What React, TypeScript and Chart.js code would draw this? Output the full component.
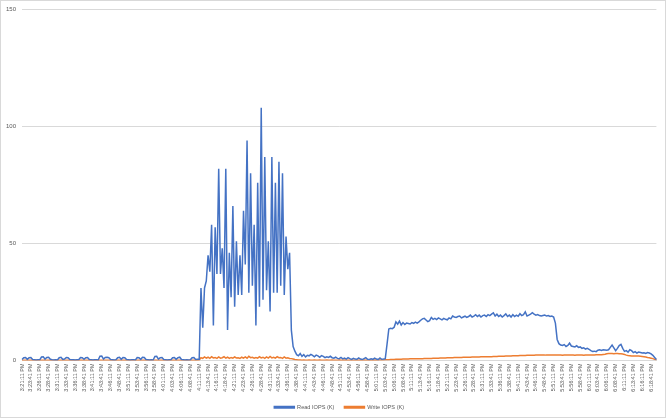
import React, { useEffect, useRef } from 'react';
import { Chart, registerables } from 'chart.js';

Chart.register(...registerables);

// Tick labels shown every 5th sample (samples every 30 s)
const tickLabels = [
  '3:21:11 PM', '3:23:41 PM', '3:26:11 PM', '3:28:41 PM', '3:31:11 PM', '3:33:41 PM', '3:36:11 PM', '3:38:41 PM',
  '3:41:11 PM', '3:43:41 PM', '3:46:11 PM', '3:48:41 PM', '3:51:11 PM', '3:53:41 PM', '3:56:11 PM', '3:58:41 PM',
  '4:01:11 PM', '4:03:41 PM', '4:06:11 PM', '4:08:41 PM', '4:11:11 PM', '4:13:41 PM', '4:16:11 PM', '4:18:41 PM',
  '4:21:11 PM', '4:23:41 PM', '4:26:11 PM', '4:28:41 PM', '4:31:11 PM', '4:33:41 PM', '4:36:11 PM', '4:38:41 PM',
  '4:41:11 PM', '4:43:41 PM', '4:46:11 PM', '4:48:41 PM', '4:51:11 PM', '4:53:41 PM', '4:56:11 PM', '4:58:41 PM',
  '5:01:11 PM', '5:03:41 PM', '5:06:11 PM', '5:08:41 PM', '5:11:11 PM', '5:13:41 PM', '5:16:11 PM', '5:18:41 PM',
  '5:21:11 PM', '5:23:41 PM', '5:26:11 PM', '5:28:41 PM', '5:31:11 PM', '5:33:41 PM', '5:36:11 PM', '5:38:41 PM',
  '5:41:11 PM', '5:43:41 PM', '5:46:11 PM', '5:48:41 PM', '5:51:11 PM', '5:53:41 PM', '5:56:11 PM', '5:58:41 PM',
  '6:01:11 PM', '6:03:41 PM', '6:06:11 PM', '6:08:41 PM', '6:11:11 PM', '6:13:41 PM', '6:16:11 PM', '6:18:41 PM',
];

const seriesNames = ['Read IOPS (K)', 'Write IOPS (K)'];
const seriesColors = ['#4472C4', '#ED7D31'];
const yTicks = [0, 50, 100, 150];

const readIops = [
  // idle period
  0.4, 1.2, 1.3, 0.5, 1.2, 1.3, 0.4, 0.3, 0.2, 0.3, 0.3,
  1.5, 1.6, 0.6, 1.3, 1.4, 0.5, 0.3, 0.2, 0.3, 0.2,
  1.2, 1.4, 0.5, 0.6, 1.3, 1.2, 0.4, 0.3, 0.3, 0.2, 0.3, 0.3,
  1.3, 1.2, 0.5, 1.2, 1.3, 0.4, 0.3, 0.2, 0.3, 0.3, 0.2,
  1.8, 1.9, 0.6, 1.3, 1.4, 1.2, 0.4, 0.3, 0.2, 0.3,
  1.2, 1.4, 0.5, 1.3, 1.2, 0.4, 0.3, 0.2, 0.3, 0.3, 0.2,
  1.3, 1.2, 0.5, 1.4, 1.3, 0.4, 0.3, 0.2, 0.3, 0.2,
  1.7, 1.8, 0.6, 1.2, 1.3, 0.4, 0.3, 0.2, 0.3, 0.3,
  1.2, 1.3, 0.5, 1.2, 1.4, 0.4, 0.3, 0.2, 0.3, 0.2, 0.3,
  1.2, 1.3, 0.4, 0.5,
  // burst
  0.5, 31, 14, 31, 34, 45, 38, 58, 15, 57, 37, 82, 37, 48, 31, 82, 13, 46, 27, 66,
  23, 51, 28, 45, 28, 64, 41, 94, 29, 80, 32, 58, 15, 76, 23, 108, 26, 87, 30, 51,
  21, 87, 29, 76, 29, 85, 32, 80, 28, 53, 39, 46, 13, 6, 4, 2.5, 2,
  // low
  3.0, 1.8, 2.5, 1.5, 2.2, 2.0, 2.6, 2.2, 1.6, 2.3,
  2.0, 1.4, 2.1, 1.8, 1.2, 1.6, 1.3, 1.8, 1.2, 1.0,
  1.4, 0.9, 0.8, 1.3, 0.7, 1.0, 0.6, 1.2, 0.8, 0.5,
  0.9, 0.6, 0.5, 1.1, 0.6, 0.4, 0.8, 1.2, 0.5, 0.4,
  0.7, 0.5, 1.0, 0.6, 0.4, 1.1, 0.5, 0.6, 0.8, 7,
  // steady
  13.5, 13.8, 13.6, 14.2, 16.5, 15.5, 16.8, 15.2, 16.2, 15.4,
  16.0, 15.8, 15.6, 16.2, 15.9, 16.4, 16.0, 16.5, 17.2, 17.8,
  18.0, 17.3, 16.6, 17.0, 18.4, 17.6, 18.0, 17.5, 18.2, 17.8,
  17.4, 18.0, 17.6, 17.4, 18.2, 17.8, 19.0, 18.6, 18.4, 18.8,
  19.0, 18.2, 18.6, 19.0, 18.4, 18.8, 19.4, 18.6, 19.0, 19.6,
  18.8, 19.4, 18.6, 19.2, 19.4, 18.8, 19.6, 19.2,
  19.8, 20.4, 19.0, 19.8, 18.8, 19.4, 18.6, 19.2, 19.9, 18.8,
  19.4, 18.6, 19.6, 18.8, 19.4, 18.9, 20.0, 19.2, 19.6, 20.8,
  19.0, 19.4, 19.8, 20.4, 19.8, 19.4, 19.6, 19.2, 19.0, 19.2,
  19.4, 19.0, 19.2, 18.8, 19.0, 18.6,
  // tail
  16, 9, 7.2, 6.6, 6.4, 6.8, 6.0, 6.4, 7.4, 6.2,
  6.0, 5.8, 6.3, 5.6, 5.8, 5.2, 5.4, 4.9, 5.2,
  4.8, 4.2, 3.9, 4.0, 3.8, 4.4, 4.6, 4.3, 4.6, 4.5,
  4.4, 4.6, 5.6, 6.6, 5.4, 4.2, 5.2, 6.4, 6.9, 5.2,
  3.9, 4.2, 3.6, 4.6, 4.2, 3.4, 3.8, 3.2, 3.6, 3.4,
  3.2, 3.3, 3.0, 3.4, 3.2, 2.8, 2.2, 1.3, 0.4,
];

const writeIops = [
  // idle period
  0.1, 0.1, 0.1, 0.1, 0.1, 0.1, 0.1, 0.1, 0.1, 0.1,
  0.1, 0.1, 0.1, 0.1, 0.1, 0.1, 0.1, 0.1, 0.1, 0.1,
  0.1, 0.1, 0.1, 0.1, 0.1, 0.1, 0.1, 0.1, 0.1, 0.1,
  0.1, 0.1, 0.1, 0.1, 0.1, 0.1, 0.1, 0.1, 0.1, 0.1,
  0.1, 0.1, 0.1, 0.1, 0.1, 0.1, 0.1, 0.1, 0.1, 0.1,
  0.1, 0.1, 0.1, 0.1, 0.1, 0.1, 0.1, 0.1, 0.1, 0.1,
  0.1, 0.1, 0.1, 0.1, 0.1, 0.1, 0.1, 0.1, 0.1, 0.1,
  0.1, 0.1, 0.1, 0.1, 0.1, 0.1, 0.1, 0.1, 0.1, 0.1,
  0.1, 0.1, 0.1, 0.1, 0.1, 0.1, 0.1, 0.1, 0.1, 0.1,
  0.1, 0.1, 0.1, 0.1, 0.1, 0.1, 0.1, 0.1, 0.1, 0.1,
  0.2,
  // burst
  1.2, 0.9, 1.5, 1.0, 1.4, 0.9, 1.6, 1.1, 1.3, 0.9,
  1.5, 1.0, 1.2, 1.6, 1.0, 1.4, 0.9, 1.3, 1.0, 1.5,
  1.1, 1.2, 0.9, 1.4, 1.0, 1.5, 1.0, 1.8, 1.2, 1.4,
  1.0, 1.3, 1.0, 1.6, 1.1, 1.4, 0.9, 1.5, 1.0, 1.7,
  1.1, 1.4, 1.0, 1.6, 1.2, 1.3, 0.9, 1.5, 1.0, 1.2,
  0.9,
  0.8, 0.6, 0.4, 0.3, 0.2,
  // low
  0.2, 0.1, 0.2, 0.1, 0.1, 0.2, 0.1, 0.1, 0.2, 0.1,
  0.1, 0.2, 0.1, 0.1, 0.1, 0.2, 0.1, 0.1, 0.2, 0.1,
  0.1, 0.1, 0.2, 0.1, 0.1, 0.2, 0.1, 0.1, 0.1, 0.2,
  0.1, 0.1, 0.2, 0.1, 0.1, 0.1, 0.2, 0.1, 0.1, 0.2,
  0.1, 0.1, 0.2, 0.1, 0.2, 0.2, 0.2, 0.2, 0.3,
  // steady
  0.3, 0.3, 0.4, 0.4, 0.4, 0.5, 0.5, 0.5, 0.5, 0.6,
  0.6, 0.6, 0.6, 0.7, 0.7, 0.7, 0.7, 0.8, 0.8, 0.8,
  0.8, 0.9, 0.9, 0.9, 0.9, 0.9, 1.0, 1.0, 1.0, 1.0,
  1.1, 1.1, 1.1, 1.1, 1.2, 1.2, 1.2, 1.2, 1.3, 1.3,
  1.3, 1.3, 1.3, 1.4, 1.4, 1.4, 1.4, 1.4, 1.5, 1.5,
  1.5, 1.5, 1.5, 1.6, 1.6, 1.6, 1.6, 1.6, 1.6,
  1.6, 1.7, 1.7, 1.7, 1.8, 1.8, 1.8, 1.8, 1.9, 1.9,
  1.9, 1.9, 2.0, 2.0, 2.0, 2.0, 2.1, 2.1, 2.1, 2.1,
  2.2, 2.2, 2.2, 2.2, 2.2, 2.3, 2.3, 2.3, 2.3, 2.3,
  2.3, 2.4, 2.4, 2.4, 2.4, 2.4,
  // tail
  2.4, 2.4, 2.4, 2.4, 2.3, 2.4, 2.4, 2.4, 2.4, 2.4,
  2.4, 2.3, 2.4, 2.4, 2.4, 2.4, 2.3, 2.4, 2.4, 2.4,
  2.4, 2.4, 2.4, 2.5, 2.5, 2.5, 2.5, 2.6, 2.7,
  2.9, 3.0, 3.0, 3.0, 2.9, 3.0, 3.0, 2.9, 2.9, 2.8, 2.6, 2.3, 2.1,
  2.0, 1.9, 1.9, 1.9, 1.9, 1.9, 1.8, 1.7, 1.6, 1.5, 1.3, 1.2, 1.0, 0.8, 0.5, 0.3,
];

const categories = readIops.map((_, i) => (i % 5 === 0 && tickLabels[i / 5] ? tickLabels[i / 5] : ''));

const FONT = "'Liberation Sans', Arial, sans-serif";
const TEXT = '#595959';
const GRID = '#d9d9d9';

const framePlugin = {
  id: 'frame',
  beforeDraw(chart: any) {
    const { ctx, width, height } = chart;
    ctx.save();
    ctx.fillStyle = '#ffffff';
    ctx.fillRect(0, 0, width, height);
    ctx.restore();
  },
  afterDraw(chart: any) {
    const { ctx, width, height } = chart;
    ctx.save();
    ctx.strokeStyle = GRID;
    ctx.lineWidth = 1;
    ctx.strokeRect(0.5, 0.5, width - 1, height - 1);
    ctx.restore();
  },
};

export default function App() {
  const ref = useRef<HTMLCanvasElement | null>(null);

  useEffect(() => {
    document.body.style.margin = '0';
    const canvas = ref.current;
    if (!canvas) return;
    const chart = new Chart(canvas, {
      type: 'line',
      data: {
        labels: categories,
        datasets: [
          {
            label: seriesNames[0],
            data: readIops,
            borderColor: seriesColors[0],
            backgroundColor: seriesColors[0],
            borderWidth: 1.5,
            pointRadius: 0,
            tension: 0,
          },
          {
            label: seriesNames[1],
            data: writeIops,
            borderColor: seriesColors[1],
            backgroundColor: seriesColors[1],
            borderWidth: 1.5,
            pointRadius: 0,
            tension: 0,
          },
        ],
      },
      options: {
        responsive: false,
        animation: false,
        devicePixelRatio: 1,
        layout: { padding: { top: 8, right: 9, left: 0, bottom: -2.1 } },
        plugins: {
          tooltip: { enabled: false },
          legend: {
            position: 'bottom',
            fullSize: false,
            labels: {
              boxWidth: 20,
              boxHeight: 1.5,
              padding: 10,
              color: TEXT,
              font: { family: FONT, size: 5.6 },
            },
          },
        },
        scales: {
          x: {
            type: 'category',
            grid: { display: true, color: 'transparent', drawTicks: false },
            border: { display: true, color: GRID },
            ticks: {
              autoSkip: false,
              maxRotation: 90,
              minRotation: 90,
              padding: 3,
              color: TEXT,
              font: { family: FONT, size: 5.5 },
            },
            afterFit: (s: any) => {
              s.height = 34;
            },
          },
          y: {
            min: 0,
            max: 150,
            afterBuildTicks: (s: any) => {
              s.ticks = yTicks.map((v) => ({ value: v }));
            },
            grid: { color: GRID, drawTicks: false },
            border: { display: false },
            ticks: {
              padding: 6,
              color: TEXT,
              font: { family: FONT, size: 6 },
            },
            afterFit: (s: any) => {
              s.width = 22;
            },
          },
        },
      },
      plugins: [framePlugin],
    });
    return () => chart.destroy();
  }, []);

  return (
    <div style={{ position: 'absolute', left: 0, top: 0, width: 666, height: 418 }}>
      <canvas ref={ref} width={666} height={418} style={{ display: 'block', width: 666, height: 418 }} />
    </div>
  );
}
